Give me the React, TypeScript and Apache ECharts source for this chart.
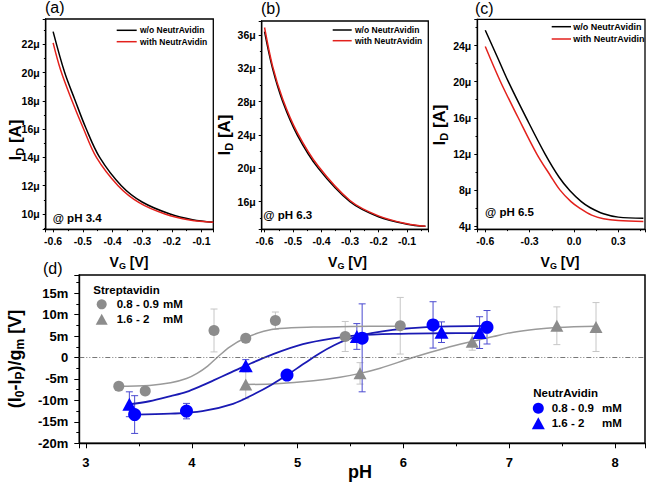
import React, { useEffect, useRef } from "react";
import * as echarts from "echarts";

// ---------- Panel (a) @ pH 3.4 ----------
const vgA_wo = [-0.6, -0.561, -0.527, -0.49, -0.443, -0.37, -0.3, -0.206, -0.13, -0.06];
const idA_wo = [22.9, 20.0, 18.1, 16.1, 14.0, 12.0, 10.85, 10.0, 9.6, 9.42];
const vgA_with = [-0.6, -0.575, -0.538, -0.499, -0.454, -0.381, -0.31, -0.223, -0.14, -0.06];
const idA_with = [22.1, 20.2, 18.1, 16.1, 14.0, 12.0, 10.8, 10.0, 9.58, 9.42];

// ---------- Panel (b) @ pH 6.3 ----------
const vgB_wo = [-0.6, -0.572, -0.536, -0.485, -0.411, -0.3, -0.2, -0.1, -0.035];
const idB_wo = [36.4, 32.0, 28.0, 24.0, 20.0, 16.0, 14.2, 13.3, 13.05];
const vgB_with = [-0.6, -0.572, -0.536, -0.485, -0.411, -0.3, -0.2, -0.1, -0.035];
const idB_with = [36.9, 32.3, 28.3, 24.3, 20.25, 16.15, 14.3, 13.35, 13.05];

// ---------- Panel (c) @ pH 6.5 ----------
const vgC_wo = [-0.6, -0.52, -0.444, -0.32, -0.196, -0.1, -0.027, 0.05, 0.108, 0.2, 0.3, 0.47];
const idC_wo = [25.7, 22.8, 20.0, 15.9, 12.0, 9.4, 7.9, 6.7, 6.05, 5.35, 4.98, 4.85];
const vgC_with = [-0.6, -0.497, -0.377, -0.252, -0.16, -0.095, -0.02, 0.041, 0.12, 0.2, 0.3, 0.47];
const idC_with = [23.9, 20.0, 16.0, 12.0, 9.6, 8.0, 6.7, 5.95, 5.2, 4.8, 4.6, 4.5];

// ---------- Panel (d) ----------
// Streptavidin 0.8 - 0.9 mM (grey circles)
const sCircX = [3.31, 3.56, 4.21, 4.51, 4.79, 5.45, 5.97];
const sCircY = [-6.7, -7.8, 6.3, 4.5, 8.6, 4.9, 7.4];
const sCircErr = [0.5, 0.6, 5.0, 0.6, 2.0, 3.5, 6.6];
// Streptavidin 1.6 - 2 mM (grey triangles)
const sTriX = [4.51, 5.59, 6.65, 7.45, 7.82];
const sTriY = [-6.3, -3.7, 3.7, 7.4, 7.1];
const sTriErr = [3.3, 2.5, 2.0, 4.4, 5.7];
// NeutrAvidin 0.8 - 0.9 mM (blue circles)
const nCircX = [3.46, 3.95, 4.9, 5.61, 6.28, 6.79];
const nCircY = [-13.3, -12.5, -4.1, 4.5, 7.6, 7.05];
const nCircErrUp = [4.4, 1.8, 0.8, 8.0, 5.4, 3.9];
const nCircErrDown = [4.4, 1.8, 0.8, 12.5, 5.4, 3.9];
// NeutrAvidin 1.6 - 2 mM (blue triangles)
const nTriX = [3.41, 4.51, 5.56, 6.36, 6.72];
const nTriY = [-10.9, -1.9, 4.9, 5.9, 5.8];
const nTriErr = [2.9, 1.4, 3.0, 2.4, 3.7];

// fitted curves
const fitSCircX = [3.3, 3.6, 3.8, 3.95, 4.05, 4.15, 4.24, 4.36, 4.51, 4.68, 4.83, 5.15, 5.5, 5.97];
const fitSCircY = [-6.7, -6.5, -5.9, -4.9, -3.7, -2.0, 0, 2.5, 4.6, 6.1, 6.75, 7.1, 7.25, 7.3];
const fitSTriX = [4.51, 4.8, 5.15, 5.4, 5.59, 5.78, 6.09, 6.4, 6.66, 6.85, 7.04, 7.25, 7.45, 7.83];
const fitSTriY = [-6.3, -6.1, -5.4, -4.6, -3.7, -2.5, 0, 2.2, 3.8, 4.9, 5.9, 6.6, 7.0, 7.3];
const fitNCircX = [3.46, 3.8, 4.1, 4.39, 4.6, 4.75, 4.9, 5.05, 5.21, 5.35, 5.46, 5.61, 5.8, 6.0, 6.28, 6.79];
const fitNCircY = [-13.3, -13.1, -12.5, -10.8, -8.4, -6.4, -4.1, -1.6, 1.0, 2.9, 4.1, 5.2, 6.1, 6.7, 7.15, 7.35];
const fitNTriX = [3.41, 3.6, 3.8, 3.95, 4.1, 4.2, 4.35, 4.51, 4.74, 5.05, 5.37, 5.56, 5.9, 6.36, 6.72];
const fitNTriY = [-10.9, -10.2, -9.0, -8.0, -6.5, -5.4, -3.7, -1.9, 0.5, 3.1, 4.6, 5.15, 5.5, 5.65, 5.7];

const FONT = '"Liberation Sans", Arial, Helvetica, sans-serif';
const GREY_PT = "#8c8c8c";
const GREY_LINE = "#9a9a9a";
const GREY_ERR = "#c6c6c6";
const BLUE_PT = "#0000ff";
const BLUE_LINE = "#1a1ab4";
const BLUE_ERR = "#4a4ad0";
const RED = "#e3211c";

const zip = (xs: number[], ys: number[]) => xs.map((x, i) => [x, ys[i]]);

function axis(
  gridIndex: number,
  min: number,
  max: number,
  step: number,
  fontSize: number,
  formatter: (v: number) => string,
  tickLen: number,
  margin: number,
  showMin: boolean
) {
  return {
    type: "value",
    gridIndex,
    min,
    max,
    minInterval: step,
    maxInterval: step,
    splitNumber: 5,
    axisLine: { show: true, onZero: false, lineStyle: { color: "#000", width: 1.3 } },
    axisTick: { show: true, inside: false, length: tickLen, lineStyle: { color: "#000", width: 1 } },
    minorTick: { show: true, splitNumber: 2, length: tickLen * 0.6, lineStyle: { color: "#000", width: 1 } },
    splitLine: { show: false },
    minorSplitLine: { show: false },
    axisLabel: {
      show: true,
      fontSize,
      fontWeight: "bold",
      fontFamily: FONT,
      color: "#000",
      margin,
      formatter,
      showMinLabel: showMin ? true : false,
      showMaxLabel: false,
    },
  };
}

const fmt1 = (v: number) => (Math.abs(v) < 1e-9 ? "0.0" : v.toFixed(1));
const fmtMu = (v: number) => `${Math.round(v)}μ`;
const fmtInt = (v: number) => `${Math.round(v)}`;
const fmtM = (v: number) => (Math.abs(v) < 1e-9 ? "0" : `${Math.round(v)}m`);

function plainText(x: number, y: number, text: string, size: number, weight = "bold", extra: any = {}) {
  return {
    type: "text",
    x,
    y,
    silent: true,
    style: {
      text,
      fontSize: size,
      fontWeight: weight,
      fontFamily: FONT,
      fill: "#000",
      align: "left",
      verticalAlign: "middle",
      ...extra,
    },
  };
}

function richTitle(x: number, y: number, parts: [string, boolean][], size: number, subSize: number, rotate: boolean) {
  const text = parts.map(([t, s]) => `{${s ? "s" : "m"}|${t}}`).join("");
  return {
    type: "text",
    x,
    y,
    rotation: rotate ? Math.PI / 2 : 0,
    silent: true,
    style: {
      text,
      align: "center",
      verticalAlign: "middle",
      fill: "#000",
      rich: {
        m: { fontSize: size, fontWeight: "bold", fontFamily: FONT, fill: "#000" },
        s: {
          fontSize: subSize,
          fontWeight: "bold",
          fontFamily: FONT,
          fill: "#000",
          padding: [Math.round(size * 0.6), 0, 0, 0],
        },
      },
    },
  };
}

function legendLine(x1: number, x2: number, y: number, color: string) {
  return {
    type: "line",
    silent: true,
    shape: { x1, y1: y, x2, y2: y },
    style: { stroke: color, lineWidth: 1.5 },
  };
}

function tri(cx: number, cy: number, w: number, h: number, color: string) {
  return {
    type: "polygon",
    silent: true,
    shape: {
      points: [
        [cx, cy - h / 2],
        [cx - w / 2, cy + h / 2],
        [cx + w / 2, cy + h / 2],
      ],
    },
    style: { fill: color },
  };
}

function dot(cx: number, cy: number, r: number, color: string) {
  return { type: "circle", silent: true, shape: { cx, cy, r }, style: { fill: color } };
}

function errSeries(xs: number[], ys: number[], up: number[], down: number[], color: string) {
  return {
    type: "custom",
    xAxisIndex: 3,
    yAxisIndex: 3,
    silent: true,
    z: 2,
    data: xs.map((x, i) => [x, ys[i] - down[i], ys[i] + up[i]]),
    encode: { x: 0, y: [1, 2] },
    renderItem: (params: any, api: any) => {
      const x = api.value(0);
      const a = api.coord([x, api.value(2)]);
      const b = api.coord([x, api.value(1)]);
      const w = 3.5;
      const st = { stroke: color, lineWidth: 1 };
      return {
        type: "group",
        children: [
          { type: "line", shape: { x1: a[0], y1: a[1], x2: b[0], y2: b[1] }, style: st },
          { type: "line", shape: { x1: a[0] - w, y1: a[1], x2: a[0] + w, y2: a[1] }, style: st },
          { type: "line", shape: { x1: b[0] - w, y1: b[1], x2: b[0] + w, y2: b[1] }, style: st },
        ],
      };
    },
  };
}

function curve(idx: number, xs: number[], ys: number[], color: string, width: number, z = 3) {
  return {
    type: "line",
    xAxisIndex: idx,
    yAxisIndex: idx,
    data: zip(xs, ys),
    smooth: 0.35,
    symbol: "none",
    silent: true,
    z,
    lineStyle: { color, width },
  };
}

function points(xs: number[], ys: number[], symbol: string, size: number | number[], color: string) {
  return {
    type: "scatter",
    xAxisIndex: 3,
    yAxisIndex: 3,
    data: zip(xs, ys),
    symbol,
    symbolSize: size,
    silent: true,
    z: 5,
    itemStyle: { color, opacity: 1 },
  };
}

export default function App() {
  const ref = useRef<HTMLDivElement>(null);

  useEffect(() => {
    if (!ref.current) return;
    const chart = echarts.init(ref.current, null, { renderer: "svg" });

    const gridBase = { show: true, borderColor: "#000", borderWidth: 1.3, backgroundColor: "transparent", containLabel: false, outerBoundsMode: "none" };

    const zeroLine = {
      silent: true,
      symbol: ["none", "none"],
      label: { show: false },
      lineStyle: { type: [5, 2, 1, 2, 1, 2], color: "#555", width: 0.8 },
      data: [{ yAxis: 0 }],
    };

    const fitSC: any = curve(3, fitSCircX, fitSCircY, GREY_LINE, 1.5);
    fitSC.markLine = zeroLine;

    const option: any = {
      animation: false,
      backgroundColor: "#fff",
      grid: [
        { ...gridBase, left: 45.7, top: 19, width: 167.6, height: 210.3 },
        { ...gridBase, left: 261.7, top: 21, width: 166.6, height: 208.3 },
        { ...gridBase, left: 477.3, top: 19.3, width: 167.7, height: 210 },
        { ...gridBase, left: 79.3, top: 275, width: 565.7, height: 168.3, borderWidth: 1.5 },
      ],
      xAxis: [
        axis(0, -0.625, -0.06, 0.1, 10.5, fmt1, 3, 6, false),
        axis(1, -0.61, -0.025, 0.1, 10.5, fmt1, 3, 6, false),
        axis(2, -0.654, 0.481, 0.3, 10.5, fmt1, 3, 6, false),
        axis(3, 2.937, 8.283, 1, 13, fmtInt, 5, 13, false),
      ],
      yAxis: [
        axis(0, 8.92, 23.79, 2, 10.5, fmtMu, 3, 6, false),
        axis(1, 12.69, 37.68, 4, 10.5, fmtMu, 3, 6, false),
        axis(2, 3.63, 26.92, 4, 10.5, fmtMu, 3, 6, false),
        axis(3, -20, 19.23, 5, 13, fmtM, 5, 11, true),
      ],
      series: [
        curve(0, vgA_wo, idA_wo, "#000", 1.5),
        curve(0, vgA_with, idA_with, RED, 1.5),
        curve(1, vgB_wo, idB_wo, "#000", 1.5),
        curve(1, vgB_with, idB_with, RED, 1.5),
        curve(2, vgC_wo, idC_wo, "#000", 1.5),
        curve(2, vgC_with, idC_with, RED, 1.5),

        errSeries(sCircX, sCircY, sCircErr, sCircErr, GREY_ERR),
        errSeries(sTriX, sTriY, sTriErr, sTriErr, GREY_ERR),
        errSeries(nCircX, nCircY, nCircErrUp, nCircErrDown, BLUE_ERR),
        errSeries(nTriX, nTriY, nTriErr, nTriErr, BLUE_ERR),

        fitSC,
        curve(3, fitSTriX, fitSTriY, GREY_LINE, 1.5),
        curve(3, fitNCircX, fitNCircY, BLUE_LINE, 1.8, 4),
        curve(3, fitNTriX, fitNTriY, BLUE_LINE, 1.8, 4),

        points(sCircX, sCircY, "circle", 11, GREY_PT),
        points(sTriX, sTriY, "triangle", [13, 12], GREY_PT),
        points(nCircX, nCircY, "circle", 13, BLUE_PT),
        points(nTriX, nTriY, "triangle", [14, 13], BLUE_PT),
      ],
      graphic: {
        elements: [
          // panel letters
          plainText(45, 7.5, "(a)", 16, "normal"),
          plainText(261, 8.5, "(b)", 16, "normal"),
          plainText(475, 8.5, "(c)", 16, "normal"),
          plainText(43, 268.5, "(d)", 16, "normal"),

          // axis titles, top panels
          richTitle(15, 140, [["I", false], ["D", true], ["\u00a0[A]", false]], 17, 11, true),
          richTitle(224, 135, [["I", false], ["D", true], ["\u00a0[A]", false]], 17, 11, true),
          richTitle(439, 125, [["I", false], ["D", true], ["\u00a0[A]", false]], 17, 11, true),
          richTitle(129, 261.5, [["V", false], ["G", true], ["\u00a0[V]", false]], 14, 9, false),
          richTitle(347.5, 261.5, [["V", false], ["G", true], ["\u00a0[V]", false]], 14, 9, false),
          richTitle(560, 261.5, [["V", false], ["G", true], ["\u00a0[V]", false]], 14, 9, false),

          // axis titles, panel d
          richTitle(
            14.5,
            359,
            [
              ["(I", false],
              ["0", true],
              ["-I", false],
              ["P", true],
              [")/g", false],
              ["m", true],
              ["\u00a0[V]", false],
            ],
            18,
            12,
            true
          ),
          plainText(360, 472, "pH", 18, "bold", { align: "center" }),

          // pH annotations
          plainText(52.7, 218.3, "@ pH 3.4", 11.5),
          plainText(263.3, 215, "@ pH 6.3", 11.5),
          plainText(485, 211.7, "@ pH 6.5", 11.5),

          // legends, top panels
          legendLine(116.7, 136.7, 30.3, "#000"),
          plainText(140, 30.3, "w/o NeutrAvidin", 8.5),
          legendLine(116.7, 136.7, 41.7, RED),
          plainText(140, 41.7, "with NeutrAvidin", 8.5),

          legendLine(332.7, 351.7, 30, "#000"),
          plainText(355, 30, "w/o NeutrAvidin", 8.5),
          legendLine(332.7, 351.7, 40.7, RED),
          plainText(355, 40.7, "with NeutrAvidin", 8.5),

          legendLine(551.7, 571, 26.7, "#000"),
          plainText(573.3, 26.7, "w/o NeutrAvidin", 9),
          legendLine(551.7, 571, 39, RED),
          plainText(573.3, 39, "with NeutrAvidin", 9),

          // legend Streptavidin
          plainText(93.3, 290, "Streptavidin", 11.5),
          dot(101.7, 304.3, 5, GREY_PT),
          plainText(116.7, 304.3, "0.8 - 0.9", 11.5),
          plainText(163, 304.3, "mM", 11.5),
          tri(101.7, 319.3, 12, 11, GREY_PT),
          plainText(116.7, 319.3, "1.6 - 2", 11.5),
          plainText(163, 319.3, "mM", 11.5),

          // legend NeutrAvidin
          plainText(533.3, 393.3, "NeutrAvidin", 11.5),
          dot(538.3, 408.3, 5.5, BLUE_PT),
          plainText(551.7, 408.3, "0.8 - 0.9", 11.5),
          plainText(602, 408.3, "mM", 11.5),
          tri(538.3, 423.3, 13, 12, BLUE_PT),
          plainText(551.7, 423.3, "1.6 - 2", 11.5),
          plainText(602, 423.3, "mM", 11.5),
        ],
      },
    };

    chart.setOption(option);
    return () => chart.dispose();
  }, []);

  return (
    <div
      ref={ref}
      style={{ position: "fixed", left: 0, top: 0, width: 646, height: 483, background: "#fff" }}
    />
  );
}
